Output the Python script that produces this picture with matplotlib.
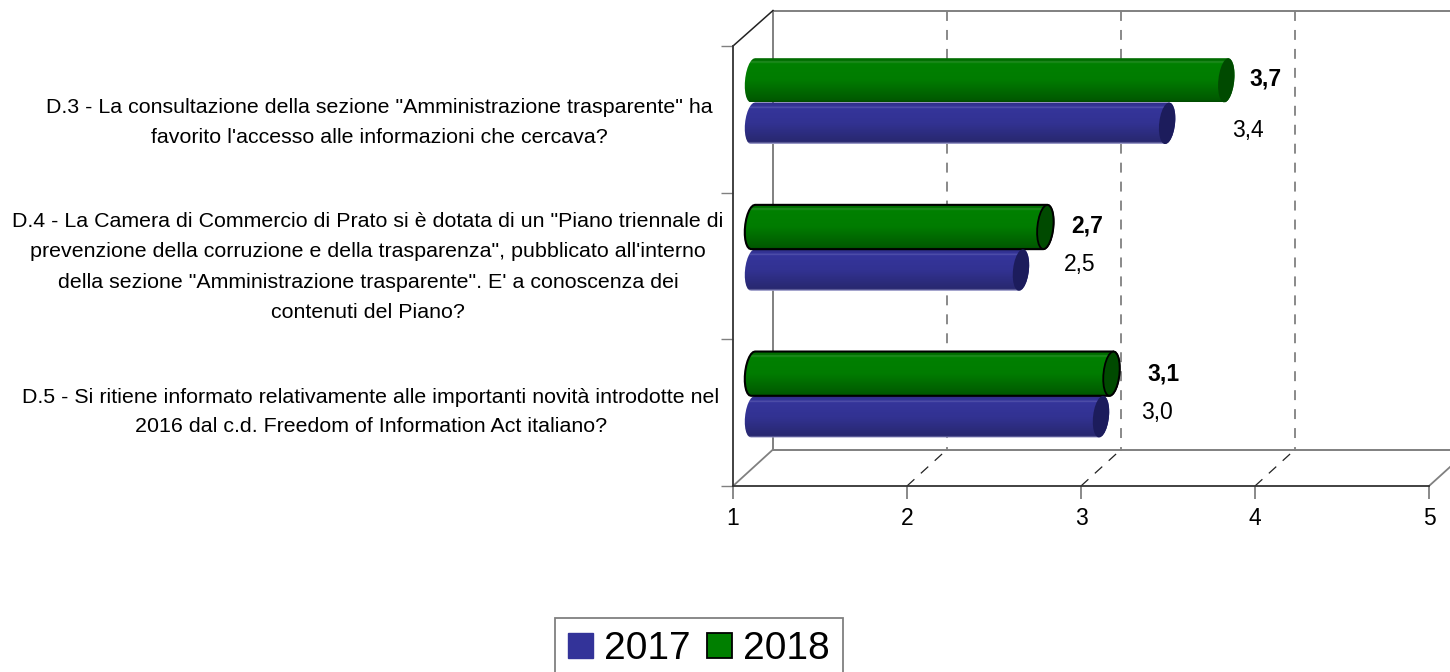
import numpy as np
import matplotlib
matplotlib.use("Agg")
import matplotlib.pyplot as plt
from matplotlib.path import Path
from matplotlib.patches import PathPatch, Patch
from matplotlib.transforms import Affine2D
from matplotlib.colors import LinearSegmentedColormap

categories = [
    'D.3 - La consultazione della sezione "Amministrazione trasparente" ha\nfavorito l\'accesso alle informazioni che cercava?',
    'D.4 - La Camera di Commercio di Prato si è dotata di un "Piano triennale di\nprevenzione della corruzione e della trasparenza", pubblicato all\'interno\ndella sezione "Amministrazione trasparente". E\' a conoscenza dei\ncontenuti del Piano?',
    'D.5 - Si ritiene informato relativamente alle importanti novità introdotte nel\n2016 dal c.d. Freedom of Information Act italiano?',
]
values_2017 = [3.38, 2.54, 3.00]
values_2018 = [3.72, 2.68, 3.06]
labels_2017 = ['3,4', '2,5', '3,0']
labels_2018 = ['3,7', '2,7', '3,1']
x_ticks = [1, 2, 3, 4, 5]

W, H, DPI = 1450, 672, 100
plt.rcParams['font.family'] = ['Liberation Sans', 'DejaVu Sans']
fig = plt.figure(figsize=(W / DPI, H / DPI), dpi=DPI, facecolor='white')
ax = fig.add_axes([733 / W, 1 - 486 / H, (1429 - 733) / W, (486 - 46) / H])
ax.set_xlim(1, 5)
ax.set_ylim(2.5, -0.5)

PX_X = (1429 - 733) / 4
PX_Y = (486 - 46) / 3
DEPTH_X, DEPTH_Y = 40, 35

px = Affine2D().scale(1, -1).translate(0, H)
depth = ax.transData + Affine2D().translate(DEPTH_X, DEPTH_Y)
mid = ax.transData + Affine2D().translate(DEPTH_X / 2, DEPTH_Y / 2)

for s in ('top', 'right'):
    ax.spines[s].set_visible(False)
for s in ('left', 'bottom'):
    ax.spines[s].set_color('#333333')
    ax.spines[s].set_linewidth(1.3)
ax.patch.set_visible(False)

ax.set_xticks(x_ticks)
ax.set_xticklabels([str(t) for t in x_ticks], fontsize=16.5)
ax.tick_params(axis='x', length=9, width=1.3, color='#808080', pad=6, labelcolor='black')
ax.set_yticks([-0.5, 0.5, 1.5, 2.5])
ax.set_yticklabels([])
ax.tick_params(axis='y', length=9, width=1.0, color='#808080')

GRAY = '#808080'
def seg(xs, ys, **kw):
    ax.plot(xs, ys, transform=px, clip_on=False, **kw)

# back wall and floor
seg([773, W], [10.5, 10.5], color=GRAY, lw=1.4, zorder=1)
seg([773, W], [449.5, 449.5], color=GRAY, lw=1.4, zorder=1)
seg([773, 773], [10.5, 449.5], color=GRAY, lw=1.4, zorder=1)
seg([733, 773], [486, 449.5], color=GRAY, lw=1.3, zorder=1)
seg([733, 773], [46, 10.5], color='#222222', lw=1.1, zorder=1)
seg([1429, W], [486, 467], color=GRAY, lw=1.3, zorder=1)

# gridlines on wall and floor
for t in x_ticks[1:-1]:
    ax.plot([t, t], [-0.5, 2.5], transform=depth, color=GRAY, lw=1.3,
            dashes=(5.5, 5), clip_on=False, zorder=1)
    x0 = 733 + (t - 1) * PX_X
    seg([x0, x0 + DEPTH_X], [486, 449.5], color='#222222', lw=0.9, dashes=(8, 7), zorder=1)

def cylinder(value, ypos, thick, stops, cap_color, outline):
    hw = 8 / PX_X
    sh = 2 / PX_X
    hh = thick / 2
    theta = np.linspace(0, np.pi, 14)
    left = np.column_stack([1 - hw * np.sin(theta) + sh * np.cos(theta), ypos - hh * np.cos(theta)])
    right = np.column_stack([value + hw * np.sin(theta) - sh * np.cos(theta), ypos + hh * np.cos(theta)])
    path = Path(np.vstack([left, right, left[:1]]), closed=True)
    cmap = LinearSegmentedColormap.from_list('c', stops)
    grad = np.linspace(0, 1, 128)[:, None]
    im = ax.imshow(grad, cmap=cmap, extent=(1 - 2 * hw, value + 2 * hw, ypos + hh, ypos - hh),
                   aspect='auto', origin='upper', zorder=3, interpolation='bilinear')
    im.set_transform(mid)
    im.set_clip_path(PathPatch(path, transform=mid, facecolor='none', edgecolor='none'))
    ec = 'black' if outline else 'none'
    ax.add_patch(PathPatch(path, transform=mid, facecolor='none', edgecolor=ec, lw=1.5, zorder=4))
    full = np.linspace(0, 2 * np.pi, 24)
    cap = np.column_stack([value + hw * np.sin(full) + sh * np.cos(full), ypos - hh * np.cos(full)])
    ax.add_patch(PathPatch(Path(cap, closed=True), transform=mid, facecolor=cap_color,
                           edgecolor=ec, lw=1.3, zorder=5))

BLUE_STOPS = [(0, '#2f2f85'), (0.10, '#35359a'), (0.12, '#5a5ab0'), (0.15, '#35359a'),
              (0.5, '#323292'), (0.95, '#28286f'), (1, '#b0b0d8')]
GREEN_STOPS = [(0, '#006a00'), (0.08, '#006f00'), (0.10, '#2a8f2a'), (0.14, '#008000'),
               (0.5, '#007c00'), (0.95, '#005a00'), (1, '#004a00')]

THICK = 43 / PX_Y
outlined = [False, True, True]
for i in range(3):
    cylinder(values_2017[i], i + THICK / 2, THICK * 0.97, BLUE_STOPS, '#1c1c5c', False)
    cylinder(values_2018[i], i - THICK / 2, THICK * 1.03, GREEN_STOPS, '#004a00', outlined[i])

# value labels, placed as in the reference (pixel offsets from value / band)
off_2018 = [(59, -40), (62, -40), (72, -39)]
off_2017 = [(101, 11), (79, -1), (76, 0)]
def val_label(v, i, txt, off, weight):
    tr = ax.transData + Affine2D().translate(off[0], -off[1])
    ax.text(v, i, txt, transform=tr, ha='center', va='center', fontsize=16.5,
            fontweight=weight, color='black', zorder=6, clip_on=False)
for i in range(3):
    val_label(values_2018[i], i, labels_2018[i], off_2018[i], 'bold')
    val_label(values_2017[i], i, labels_2017[i], off_2017[i], 'normal')

# category labels
label_x = [379, 368, 371]
label_dy = [3, 1, -1]
spacing = [1.77, 1.77, 1.68]
for i, c in enumerate(categories):
    tr = ax.transData + Affine2D().translate(label_x[i] - 733, -label_dy[i])
    ax.text(1, i, c, transform=tr, ha='center', va='center', fontsize=15.4,
            linespacing=spacing[i], color='black', clip_on=False)

handles = [Patch(facecolor='#333399', edgecolor='#333399', label='2017'),
           Patch(facecolor='#007f00', edgecolor='black', linewidth=1.3, label='2018')]
leg = fig.legend(handles=handles, loc='lower left', bbox_to_anchor=(555 / W, -8 / H), ncol=2,
                 fontsize=28, frameon=True, fancybox=False, edgecolor=GRAY, framealpha=1,
                 borderaxespad=0, handlelength=0.65, handleheight=0.65, handletextpad=0.28,
                 columnspacing=0.42, borderpad=0.33)
leg.get_frame().set_linewidth(1.3)

fig.savefig('out.png', dpi=DPI, facecolor='white')
